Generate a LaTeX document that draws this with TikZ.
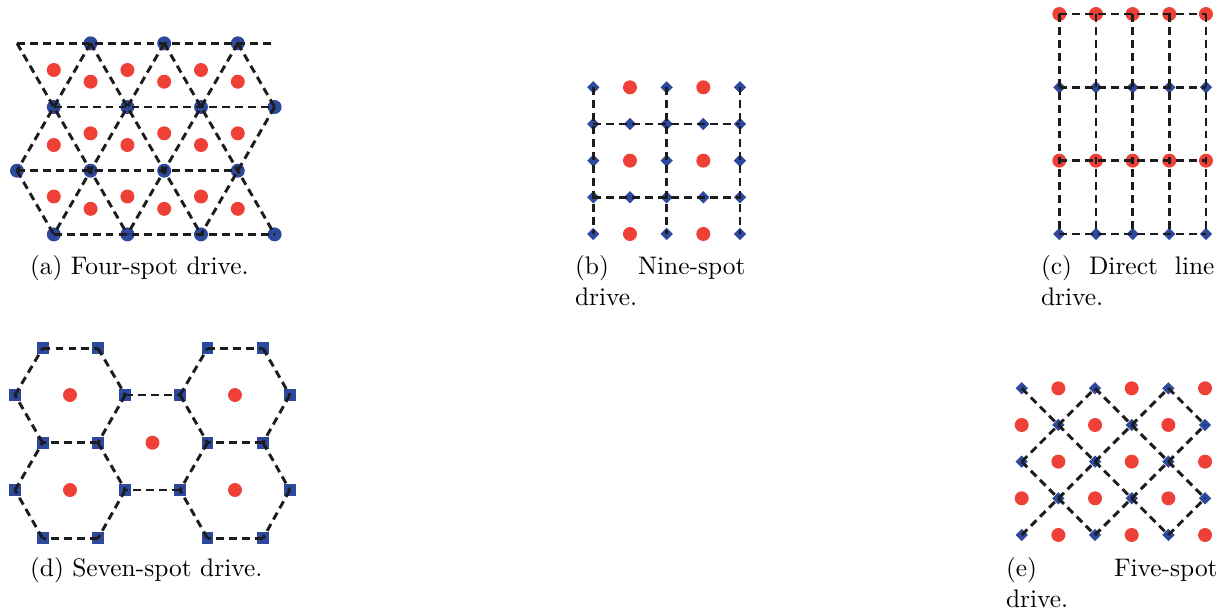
\documentclass[tikz,border=0pt]{standalone}
\usetikzlibrary{shapes.geometric}
\definecolor{dotblue}{RGB}{45,73,157}
\definecolor{dotred}{RGB}{238,64,54}
\definecolor{linecol}{RGB}{28,28,28}
\begin{document}
\begin{tikzpicture}[x=0.3937pt,y=-0.3937pt,
  bdot/.style={circle,fill=dotblue,inner sep=0pt,minimum size=5.5pt},
  rdot/.style={circle,fill=dotred,inner sep=0pt,minimum size=5.5pt},
  bdia/.style={diamond,fill=dotblue,inner sep=0pt,minimum size=5pt},
  bsq/.style={rectangle,fill=dotblue,inner sep=0pt,minimum size=4.7pt},
  link/.style={draw=linecol,line width=1.15pt,dash pattern=on 3.1pt off 2pt},
  captext/.style={anchor=north west,inner sep=0pt,align=left}]
\useasboundingbox (0,0) rectangle (1223,611);

% ---------------- (a) Four-spot drive ----------------
\foreach \j in {0,1,2,3}{
  \foreach \i in {0,1,2,3}{
    \pgfmathsetmacro\xx{17+73.6*\i+36.8*mod(\j,2)}
    \pgfmathsetmacro\yy{43.3+63.7*\j}
    \ifnum\numexpr\i+\j\relax=0
      \coordinate (a-\i-\j) at (\xx,\yy);
    \else
      \node[bdot] (a-\i-\j) at (\xx,\yy) {};
    \fi
  }
}
\coordinate (a-end) at (273,43.3);
\foreach \x/\y [count=\n] in {53.8/70,127.4/70,201/70,90.6/81.7,164.2/81.7,237.8/81.7,
  90.6/133.3,164.2/133.3,237.8/133.3,53.8/145,127.4/145,201/145,
  53.8/196.5,127.4/196.5,201/196.5,90.6/208.8,164.2/208.8,237.8/208.8}
  \node[rdot] (ar-\n) at (\x,\y) {};
\draw[link] (a-0-0.center) -- (a-end);
\foreach \j in {1,2,3} \draw[link] (a-0-\j.center) -- (a-3-\j.center);
\draw[link] (a-0-0.center) -- (a-0-1.center) -- (a-1-2.center) -- (a-1-3.center);
\draw[link] (a-1-0.center) -- (a-1-1.center) -- (a-2-2.center) -- (a-2-3.center);
\draw[link] (a-2-0.center) -- (a-2-1.center) -- (a-3-2.center) -- (a-3-3.center);
\draw[link] (a-3-0.center) -- (a-3-1.center);
\draw[link] (a-0-2.center) -- (a-0-3.center);
\draw[link] (a-1-0.center) -- (a-0-1.center) -- (a-0-2.center);
\draw[link] (a-2-0.center) -- (a-1-1.center) -- (a-1-2.center) -- (a-0-3.center);
\draw[link] (a-3-0.center) -- (a-2-1.center) -- (a-2-2.center) -- (a-1-3.center);
\draw[link] (a-3-1.center) -- (a-3-2.center) -- (a-2-3.center);
\node[captext] (capa) at (29.5,255) {(a) Four-spot drive.};

% ---------------- (b) Nine-spot drive ----------------
\foreach \r in {0,...,4}{
  \foreach \c in {0,...,4}{
    \pgfmathsetmacro\xx{593.3+36.67*\c}
    \pgfmathsetmacro\yy{87.3+36.67*\r}
    \ifodd\r
      \node[bdia] (b-\c-\r) at (\xx,\yy) {};
    \else
      \ifodd\c
        \node[rdot] (b-\c-\r) at (\xx,\yy) {};
      \else
        \node[bdia] (b-\c-\r) at (\xx,\yy) {};
      \fi
    \fi
  }
}
\foreach \c in {0,2,4} \draw[link] (b-\c-0.center) -- (b-\c-4.center);
\foreach \r in {1,3} \draw[link] (b-0-\r.center) -- (b-4-\r.center);
\node[captext,text width=67.1pt] (capb) at (574.5,255) {(b)\hfill Nine-spot\\drive.};

% ---------------- (c) Direct line drive ----------------
\foreach \r in {0,...,3}{
  \foreach \c in {0,...,4}{
    \pgfmathsetmacro\xx{1059.3+36.67*\c}
    \pgfmathsetmacro\yy{14+73.33*\r}
    \ifodd\r
      \node[bdia] (c-\c-\r) at (\xx,\yy) {};
    \else
      \node[rdot] (c-\c-\r) at (\xx,\yy) {};
    \fi
  }
}
\foreach \c in {0,...,4} \draw[link] (c-\c-0.center) -- (c-\c-3.center);
\foreach \r in {0,...,3} \draw[link] (c-0-\r.center) -- (c-4-\r.center);
\node[captext,text width=68.3pt] (capc) at (1040.5,255) {(c)\hfill Direct\hfill line\\drive.};

% ---------------- (d) Seven-spot drive ----------------
\foreach \nm/\x/\y in {P1/42.6/348.3,P2/98/348.3,P3/207.5/348.3,P4/263/348.3,
  Q1/15/395,Q2/125.3/395,Q3/180/395,Q4/289.8/395,
  R1/42.6/442.7,R2/98/442.7,R3/207.5/442.7,R4/263/442.7,
  S1/15/490,S2/125.3/490,S3/180/490,S4/289.8/490,
  T1/42.6/538.3,T2/98/538.3,T3/207.5/538.3,T4/263/538.3}
  \node[bsq] (d-\nm) at (\x,\y) {};
\foreach \x/\y [count=\n] in {70/395,70/490,152.5/442.7,235/395,235/490}
  \node[rdot] (dr-\n) at (\x,\y) {};
\foreach \u/\v in {P1/P2,P2/Q2,Q2/R2,R2/R1,R1/Q1,Q1/P1,
  R2/S2,S2/T2,T2/T1,T1/S1,S1/R1,
  Q2/Q3,Q3/R3,R3/S3,S3/S2,
  P3/P4,P4/Q4,Q4/R4,R4/R3,Q3/P3,
  R4/S4,S4/T4,T4/T3,T3/S3}
  \draw[link] (d-\u.center) -- (d-\v.center);
\node[captext] (capd) at (29.5,557) {(d) Seven-spot drive.};

% ---------------- (e) Five-spot drive ----------------
\foreach \r in {0,...,4}{
  \foreach \c in {0,...,5}{
    \pgfmathsetmacro\xx{1021.7+36.67*\c}
    \pgfmathsetmacro\yy{388.3+36.67*\r}
    \ifodd\numexpr\c+\r\relax
      \node[rdot] (e-\c-\r) at (\xx,\yy) {};
    \else
      \node[bdia] (e-\c-\r) at (\xx,\yy) {};
    \fi
  }
}
\draw[link] (e-0-0.center) -- (e-4-4.center);
\draw[link] (e-2-0.center) -- (e-5-3.center);
\draw[link] (e-4-0.center) -- (e-5-1.center);
\draw[link] (e-0-2.center) -- (e-2-4.center);
\draw[link] (e-0-4.center) -- (e-4-0.center);
\draw[link] (e-0-2.center) -- (e-2-0.center);
\draw[link] (e-2-4.center) -- (e-5-1.center);
\draw[link] (e-4-4.center) -- (e-5-3.center);
\node[captext,text width=83.3pt] (cape) at (1005.5,557) {(e)\hfill Five-spot\\drive.};
\end{tikzpicture}
\end{document}
